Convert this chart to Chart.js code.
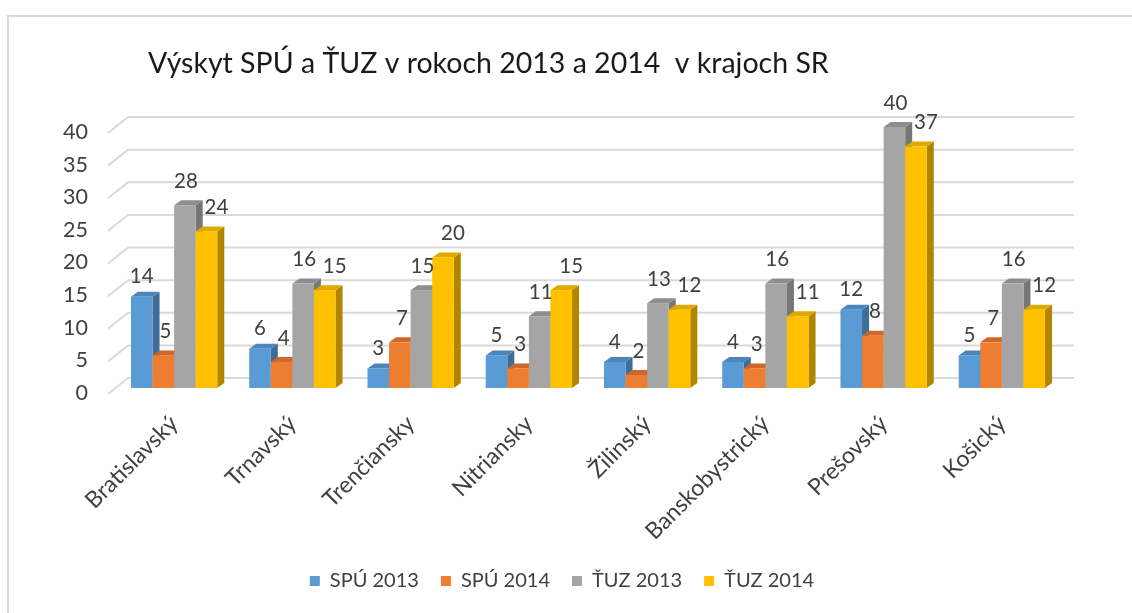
<!DOCTYPE html>
<html>
<head>
<meta charset="utf-8">
<title>Výskyt SPÚ a ŤUZ</title>
<script src="https://cdn.jsdelivr.net/npm/chart.js@4.4.1/dist/chart.umd.min.js"></script>
<style>
  html, body { margin: 0; padding: 0; background: #fff; }
  #wrap { position: relative; width: 1132px; height: 613px; overflow: hidden; }
  #frame { position: absolute; left: 7px; top: 15px; right: -10px; bottom: -10px;
           border-left: 2px solid #d9d9d9; border-top: 2px solid #d9d9d9; }
  canvas { position: absolute; left: 0; top: 0; }
</style>
</head>
<body>
<div id="wrap">
  <div id="frame"></div>
  <canvas id="chart" width="1132" height="613"></canvas>
</div>
<script>
(function() {
  'use strict';

  // Data
  var regions = ['Bratislavský', 'Trnavský', 'Trenčiansky', 'Nitriansky', 'Žilinský', 'Banskobystrický', 'Prešovský', 'Košický'];
  var spu2013 = [14, 6, 3, 5, 4, 4, 12, 5];
  var spu2014 = [5, 4, 7, 3, 2, 3, 8, 7];
  var tuz2013 = [28, 16, 15, 11, 13, 16, 40, 16];
  var tuz2014 = [24, 15, 20, 15, 12, 11, 37, 12];
  var seriesNames = ['SPÚ 2013', 'SPÚ 2014', 'ŤUZ 2013', 'ŤUZ 2014'];
  var yRange = [0, 40];
  var yStep = 5;
  var chartTitle = 'Výskyt SPÚ a ŤUZ v rokoch 2013 a 2014  v krajoch SR';

  var FONT = 'Lato, "Open Sans", sans-serif';
  var TEXT = '#404040';

  // front / top / side colours for the fake 3D columns
  var palette = [
    { front: '#5b9bd5', top: '#4a85bd', side: '#3e6d98' },
    { front: '#ed7d31', top: '#d0672a', side: '#a9551f' },
    { front: '#a5a5a5', top: '#8e8e8e', side: '#767676' },
    { front: '#ffc000', top: '#e0a900', side: '#b08600' }
  ];
  // data label nudges per series (dx, rise above column)
  var labelNudge = [[0, 20], [2, 24], [1, 24], [10, 24]];

  var DEPTH_X = 7, DEPTH_Y = 5;

  var threeD = {
    id: 'threeD',
    beforeDatasetsDraw: function(chart) {
      // back wall gridlines with the little floor diagonal
      var ctx = chart.ctx;
      var area = chart.chartArea;
      var y = chart.scales.y;
      ctx.save();
      ctx.strokeStyle = '#d9d9d9';
      ctx.lineWidth = 2;
      y.ticks.forEach(function(t) {
        var py = y.getPixelForValue(t.value);
        ctx.beginPath();
        ctx.moveTo(area.left - 7, py + 6);
        ctx.lineTo(area.left + 13, py - 10);
        ctx.lineTo(area.right + 13, py - 10);
        ctx.stroke();
      });
      ctx.restore();
    },
    beforeDatasetDraw: function() {
      return false; // columns are painted below, left to right
    },
    afterDatasetsDraw: function(chart) {
      var ctx = chart.ctx;
      ctx.save();
      chart.data.datasets.forEach(function(ds, di) {
        var meta = chart.getDatasetMeta(di);
        var c = palette[di];
        meta.data.forEach(function(bar) {
          var p = bar.getProps(['x', 'y', 'base', 'width'], true);
          var l = p.x - p.width / 2, r = p.x + p.width / 2;
          ctx.fillStyle = c.side;
          ctx.beginPath();
          ctx.moveTo(r, p.y);
          ctx.lineTo(r + DEPTH_X, p.y - DEPTH_Y);
          ctx.lineTo(r + DEPTH_X, p.base - DEPTH_Y);
          ctx.lineTo(r, p.base);
          ctx.closePath();
          ctx.fill();
          ctx.fillStyle = c.top;
          ctx.beginPath();
          ctx.moveTo(l, p.y);
          ctx.lineTo(l + DEPTH_X, p.y - DEPTH_Y);
          ctx.lineTo(r + DEPTH_X, p.y - DEPTH_Y);
          ctx.lineTo(r, p.y);
          ctx.closePath();
          ctx.fill();
          ctx.fillStyle = c.front;
          ctx.fillRect(l, p.y, p.width, p.base - p.y);
        });
      });

      // value labels
      ctx.font = '20.5px ' + FONT;
      ctx.fillStyle = TEXT;
      ctx.textAlign = 'center';
      ctx.textBaseline = 'middle';
      chart.data.datasets.forEach(function(ds, di) {
        var meta = chart.getDatasetMeta(di);
        meta.data.forEach(function(bar, i) {
          ctx.fillText(String(ds.data[i]), bar.x + labelNudge[di][0], bar.y - labelNudge[di][1]);
        });
      });

      // title
      ctx.font = '28.5px ' + FONT;
      ctx.fillStyle = '#1a1a1a';
      ctx.textAlign = 'left';
      ctx.textBaseline = 'alphabetic';
      ctx.fillText(chartTitle, 148, 73);
      ctx.restore();
    }
  };

  var seriesValues = [spu2013, spu2014, tuz2013, tuz2014];
  var datasets = seriesNames.map(function(name, i) {
    return {
      label: name,
      data: seriesValues[i],
      backgroundColor: palette[i].front,
      borderWidth: 0,
      categoryPercentage: 0.73,
      barPercentage: 1.0
    };
  });

  new Chart(document.getElementById('chart'), {
    type: 'bar',
    data: { labels: regions, datasets: datasets },
    plugins: [threeD],
    options: {
      responsive: false,
      animation: false,
      devicePixelRatio: 1,
      layout: { padding: { top: 127, right: 71, bottom: 12, left: 63 } },
      plugins: {
        legend: {
          position: 'bottom',
          labels: {
            boxWidth: 10,
            boxHeight: 10,
            padding: 22,
            color: TEXT,
            font: { family: FONT, size: 20 }
          }
        },
        tooltip: { enabled: false },
        title: { display: false }
      },
      scales: {
        x: {
          grid: { display: false, drawTicks: false },
          border: { display: false },
          ticks: {
            autoSkip: false,
            minRotation: 45,
            maxRotation: 45,
            padding: 22,
            color: TEXT,
            font: { family: FONT, size: 23 }
          },
          afterFit: function(s) { s.height = 161; }
        },
        y: {
          min: yRange[0],
          max: yRange[1],
          grid: { display: false, drawTicks: false },
          border: { display: false },
          ticks: {
            stepSize: yStep,
            padding: 27,
            labelOffset: 5,
            color: TEXT,
            font: { family: FONT, size: 21.5 }
          },
          afterFit: function(s) { s.width = 52; }
        }
      }
    }
  });
})();
</script>
</body>
</html>
